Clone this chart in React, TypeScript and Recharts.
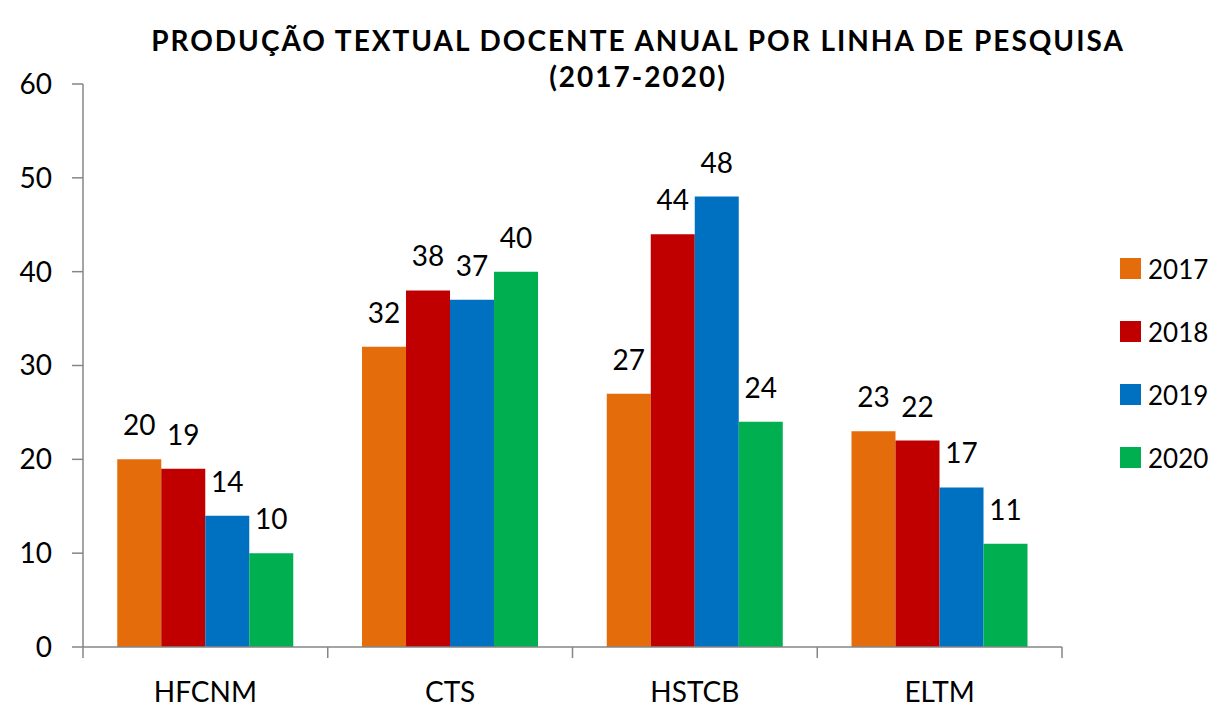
import React from "react";
import { BarChart, Bar, XAxis, YAxis, Legend, LabelList } from "recharts";

const categories = ["HFCNM", "CTS", "HSTCB", "ELTM"];
const years = ["2017", "2018", "2019", "2020"];
const v2017 = [20, 32, 27, 23];
const v2018 = [19, 38, 44, 22];
const v2019 = [14, 37, 48, 17];
const v2020 = [10, 40, 24, 11];
const yTicks = [0, 10, 20, 30, 40, 50, 60];
const colors = ["#E46C0A", "#C00000", "#0070C0", "#00B050"];
const titleLine1 = "PRODUÇÃO TEXTUAL DOCENTE ANUAL POR LINHA DE PESQUISA";
const titleLine2 = "(2017-2020)";

const series = [v2017, v2018, v2019, v2020];
const rows = categories.map((c, i) => {
  const r: Record<string, string | number> = { name: c };
  years.forEach((y, j) => (r[y] = series[j][i]));
  return r;
});

const FONT = "Lato, 'Open Sans', sans-serif";
const AXIS = "#868686";

// category label + separator ticks between categories (Excel style)
function CatTick(props: any) {
  const { x, y, payload, index, width, visibleTicksCount } = props;
  const band = width && visibleTicksCount ? width / visibleTicksCount : 0;
  const top = y - 35;
  return (
    <g>
      {band > 0 && (
        <line x1={x + band / 2} x2={x + band / 2} y1={top} y2={top + 11} stroke={AXIS} strokeWidth={1.5} />
      )}
      {band > 0 && index === 0 && (
        <line x1={x - band / 2} x2={x - band / 2} y1={top} y2={top + 11} stroke={AXIS} strokeWidth={1.5} />
      )}
      <text x={x} y={y} dy="0.71em" textAnchor="middle" fill="#000" fontSize={28} fontFamily={FONT}>
        {payload.value}
      </text>
    </g>
  );
}

function LegendBox(props: any) {
  const items = props.payload || [];
  return (
    <div style={{ fontFamily: FONT }}>
      {items.map((it: any) => (
        <div key={it.value} style={{ height: 63, display: "flex", alignItems: "center" }}>
          <span style={{ width: 21, height: 21, background: it.color, display: "inline-block", marginRight: 7 }} />
          <span style={{ fontSize: 26, color: "#000" }}>{it.value}</span>
        </div>
      ))}
    </div>
  );
}

export default function App() {
  return (
    <div style={{ position: "absolute", left: 0, top: 0, width: 1229, height: 707, background: "#fff" }}>
      <div
        style={{
          position: "absolute",
          left: 88,
          top: 22,
          width: 1100,
          textAlign: "center",
          fontFamily: FONT,
          fontWeight: 700,
          fontSize: 28,
          letterSpacing: 2,
          lineHeight: "36px",
          color: "#000",
        }}
      >
        <div>{titleLine1}</div>
        <div>{titleLine2}</div>
      </div>
      <BarChart
        width={1229}
        height={707}
        data={rows}
        margin={{ top: 84, right: 167, bottom: 0, left: 0 }}
        barCategoryGap="14%"
        barGap={0}
      >
        <XAxis
          dataKey="name"
          height={60}
          stroke={AXIS}
          strokeWidth={1.5}
          tickLine={false}
          tickSize={11}
          tickMargin={24}
          tick={<CatTick />}
          interval={0}
        />
        <YAxis
          width={83}
          domain={[0, 60]}
          ticks={yTicks}
          interval={0}
          stroke={AXIS}
          strokeWidth={1.5}
          tickSize={11}
          tickMargin={20}
          tick={{ fill: "#000", fontSize: 28, fontFamily: FONT }}
        />
        <Legend
          layout="vertical"
          align="center"
          verticalAlign="middle"
          width={110}
          wrapperStyle={{ left: 1120, top: 237 }}
          content={<LegendBox />}
        />
        {years.map((y, i) => (
          <Bar key={y} dataKey={y} fill={colors[i]} isAnimationActive={false}>
            <LabelList dataKey={y} position="top" offset={24} fill="#000" fontSize={28} fontFamily={FONT} />
          </Bar>
        ))}
      </BarChart>
    </div>
  );
}
